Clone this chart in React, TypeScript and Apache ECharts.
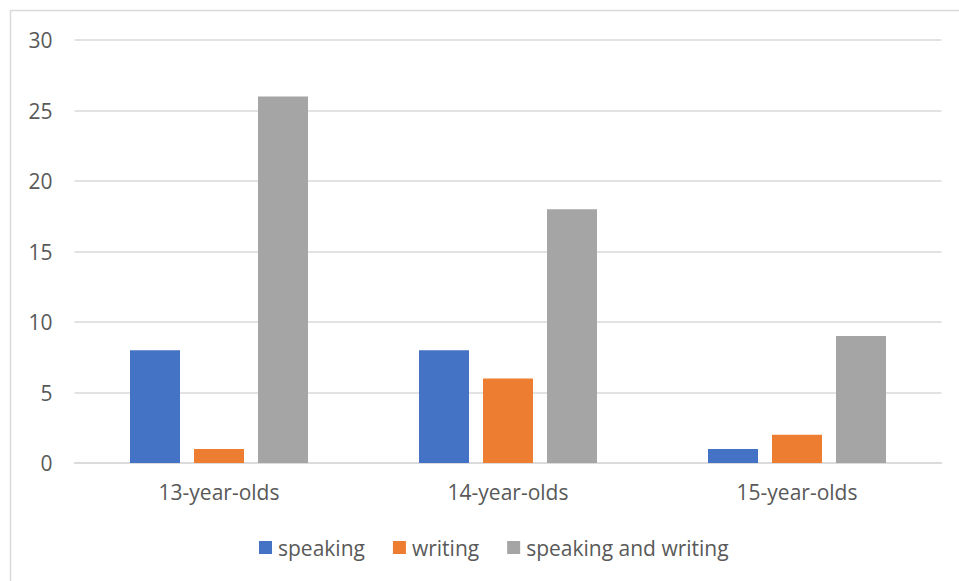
import React, { useEffect, useRef } from "react";
import * as echarts from "echarts";

const categories = ["13-year-olds", "14-year-olds", "15-year-olds"];
const speaking = [8, 8, 1];
const writing = [1, 6, 2];
const speakingAndWriting = [26, 18, 9];
const seriesNames = ["speaking", "writing", "speaking and writing"];
const colors = ["#4472C4", "#ED7D31", "#A5A5A5"];

export default function App() {
  const ref = useRef<HTMLDivElement>(null);
  useEffect(() => {
    if (!ref.current) return;
    const chart = echarts.init(ref.current, null, { renderer: "svg" });
    const font = "'Open Sans', sans-serif";
    const data = [speaking, writing, speakingAndWriting];
    chart.setOption({
      animation: false,
      backgroundColor: "#ffffff",
      graphic: [
        {
          type: "rect",
          shape: { x: 10.5, y: 10.5, width: 960, height: 580 },
          style: { fill: "none", stroke: "#D9D9D9", lineWidth: 1.5 },
          silent: true,
        },
      ],
      grid: { left: 74.5, right: 17.5, top: 40, bottom: 118, containLabel: false },
      xAxis: {
        type: "category",
        data: categories,
        axisLine: { show: true, lineStyle: { color: "#D9D9D9", width: 1.5 } },
        axisTick: { show: false },
        axisLabel: { color: "#595959", fontSize: 21, fontFamily: font, margin: 18 },
      },
      yAxis: {
        type: "value",
        min: 0,
        max: 30,
        interval: 5,
        axisLine: { show: false },
        axisTick: { show: false },
        splitLine: { lineStyle: { color: "#D9D9D9", width: 1.5 } },
        axisLabel: { color: "#595959", fontSize: 21, fontFamily: font, margin: 22 },
      },
      legend: {
        left: 259,
        top: 537,
        padding: 0,
        itemWidth: 13,
        itemHeight: 13,
        itemGap: 28,
        icon: "rect",
        textStyle: { color: "#595959", fontSize: 21, fontFamily: font, padding: [0, 0, 0, 1] },
        data: seriesNames,
      },
      series: seriesNames.map((name, i) => ({
        name,
        type: "bar",
        data: data[i],
        itemStyle: { color: colors[i] },
        barWidth: 50,
        barGap: "28%",
      })),
    });
    return () => chart.dispose();
  }, []);
  return (
    <div
      ref={ref}
      style={{ position: "fixed", left: 0, top: 0, width: 959, height: 581 }}
    />
  );
}
